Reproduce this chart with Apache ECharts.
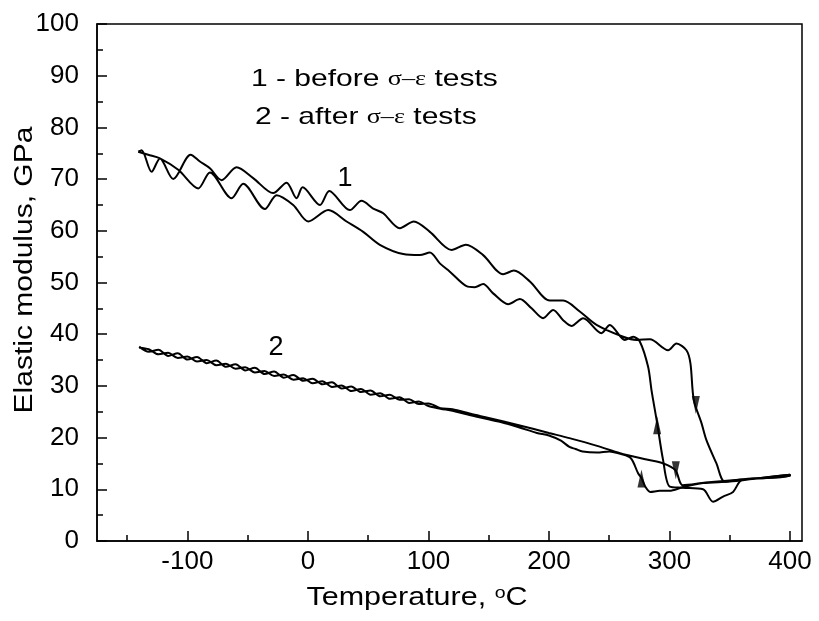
<!DOCTYPE html>
<html>
<head>
<meta charset="utf-8">
<script src="https://cdn.jsdelivr.net/npm/echarts@6/dist/echarts.min.js"></script>
<style>
  html, body { margin: 0; padding: 0; background: #fff; }
  #main { width: 819px; height: 621px; }
</style>
</head>
<body>
<div id="main"></div>
<script>
// tick values
const xTicks = [-100, 0, 100, 200, 300, 400];
const xMinorTicks = [-150, -50, 50, 150, 250, 350];

// curve 1 (before tests): heating branch, left to right
const c1Heat = [
  [-140.8, 75.3], [-138, 75.6], [-129.7, 71.4], [-122.8, 74.0], [-111.7, 70.0], [-97.3, 74.7],
  [-89.6, 73.4], [-81.3, 72.1], [-71.6, 69.8], [-59.2, 72.3], [-45.4, 70.2], [-28.8, 67.3],
  [-17.7, 69.3], [-9.4, 66.3], [-4.4, 68.4], [10, 65.0], [17.7, 67.7], [34.8, 64.0],
  [44.5, 65.8], [54.2, 64.3], [62.5, 63.4], [76.3, 60.5], [87.9, 61.8], [101.2, 59.8],
  [119.2, 56.3], [131.1, 57.3], [145.4, 55.3], [162, 51.6], [170.9, 52.3], [184.2, 50.2],
  [200.7, 46.5], [211.8, 46.5], [225.6, 44.4], [239.5, 41.8], [261.6, 39.5], [272.7, 38.9],
  [283.7, 39.0], [298.9, 36.9], [305.8, 38.2], [314.1, 36.9], [317.4, 34.4], [320.2, 27.3],
  [326.6, 22.8], [330.7, 19.5], [339, 15.0], [345.9, 11.5], [360, 11.9], [380, 12.3], [400, 12.8]
];
// curve 1: cooling branch, right to left
const c1Cool = [
  [400, 12.6], [380, 12.2], [360, 11.8], [352.8, 9.5], [344.5, 8.6], [336.2, 7.6],
  [327.9, 10.0], [311, 10.3], [300.3, 10.5], [294.7, 15.7], [289.8, 22.8], [285.1, 29.2],
  [282.3, 33.7], [275.4, 38.6], [269.9, 39.5], [263, 38.9], [250.5, 41.8], [243.6, 40.2],
  [228.4, 43.1], [218.7, 41.6], [211.8, 42.7], [203.5, 44.7], [195.2, 43.1], [185.6, 45.0],
  [175.9, 46.8], [166.2, 45.8], [153.7, 47.9], [145.4, 49.7], [138.5, 49.1], [131.6, 49.3],
  [117.8, 52.1], [109.5, 53.7], [101.2, 55.8], [92.9, 55.3], [79.1, 55.5], [59.7, 57.3],
  [45.9, 59.8], [32.1, 61.8], [16.9, 64.0], [0.3, 61.8], [-12.2, 65.0], [-26, 66.9],
  [-35.7, 64.2], [-53.7, 69.1], [-63.3, 66.3], [-81.3, 71.3], [-91, 68.2], [-107.6, 71.8],
  [-122.8, 74.0], [-132.5, 74.7], [-140.8, 75.3]
];

// curve 2 (after tests): heating branch, left to right
const c2Heat = [
  [-140, 37.6], [-132, 36.6], [-124, 37.0], [-116, 35.8], [-108, 36.3], [-100, 35.1],
  [-92, 35.6], [-84, 34.4], [-76, 34.9], [-68, 33.7], [-60, 34.2], [-52, 33.0],
  [-44, 33.5], [-36, 32.3], [-28, 32.8], [-20, 31.6], [-12, 32.1], [-4, 31.0],
  [4, 31.4], [12, 30.3], [20, 30.7], [28, 29.5], [36, 29.9], [44, 28.8],
  [52, 29.1], [60, 28.0], [68, 28.3], [76, 27.3], [84, 27.4], [92, 26.5],
  [100, 26.6], [110, 25.7], [120, 25.5], [135, 24.6], [150, 23.8], [175, 22.4],
  [200, 20.9], [217, 19.9], [240, 18.4], [259, 17.0], [280, 15.8], [295, 15.0],
  [305, 13.7], [311, 10.8], [330, 11.3], [360, 11.9], [400, 12.6]
];
// curve 2: cooling branch, right to left
const c2Cool = [
  [400, 12.8], [372, 12.1], [350, 11.5], [328, 11.2], [311, 10.4], [300, 9.7],
  [292, 9.7], [284, 9.5], [280, 10.5], [277, 12.1], [274, 13.1], [268, 16.0],
  [260, 16.8], [250, 17.3], [240, 17.1], [228, 17.3], [222, 17.8], [217, 18.2],
  [210, 19.4], [200, 20.4], [190, 20.9], [175, 22.0], [160, 23.0], [145, 23.8],
  [130, 24.6], [120, 25.2], [110, 25.6], [100, 26.1], [92, 27.0], [84, 26.7],
  [76, 27.8], [68, 27.5], [60, 28.6], [52, 28.3], [44, 29.4], [36, 29.0],
  [28, 30.1], [20, 29.8], [12, 30.9], [4, 30.5], [-4, 31.5], [-12, 31.2],
  [-20, 32.2], [-28, 31.9], [-36, 32.9], [-44, 32.6], [-52, 33.6], [-60, 33.3],
  [-68, 34.3], [-76, 34.0], [-84, 35.0], [-92, 34.7], [-100, 35.7], [-108, 35.4],
  [-116, 36.4], [-124, 36.1], [-132, 37.1], [-140, 37.4]
];

// arrow heads: [T, E, rotation]
const arrows = [
  [321.9, 26.3, 180],
  [289.8, 22.4, 0],
  [305.3, 13.7, 180],
  [276.8, 12.1, 0]
];

const FONT = 'Liberation Sans';
const chart = echarts.init(document.getElementById('main'), null, { renderer: 'canvas' });

const lineSeries = (name, data) => ({
  name: name,
  type: 'line',
  data: data,
  showSymbol: false,
  smooth: 0.3,
  lineStyle: { color: '#000', width: 2 },
  z: 3
});

const tickStyle = { color: '#000', width: 1.5 };

const option = {
  backgroundColor: '#fff',
  animation: false,
  grid: {
    left: 97, right: 17, top: 24, bottom: 80,
    show: true, borderColor: '#000', borderWidth: 1.5
  },
  xAxis: [
    {
      type: 'value', min: -175, max: 410, position: 'bottom',
      axisLine: { show: true, onZero: false, lineStyle: tickStyle },
      axisTick: { show: true, inside: true, length: 10, customValues: xTicks, lineStyle: tickStyle },
      axisLabel: { customValues: xTicks, fontFamily: FONT, fontSize: 26, color: '#000', margin: 8 },
      splitLine: { show: false }
    },
    {
      type: 'value', min: -175, max: 410, position: 'bottom', offset: 0,
      axisLine: { show: false, onZero: false },
      axisTick: { show: true, inside: true, length: 6, customValues: xMinorTicks, lineStyle: tickStyle },
      axisLabel: { show: false },
      splitLine: { show: false }
    }
  ],
  yAxis: {
    type: 'value', min: 0, max: 100, interval: 10, position: 'left',
    axisLine: { show: true, onZero: false, lineStyle: tickStyle },
    axisTick: { show: true, inside: true, length: 10, lineStyle: tickStyle },
    minorTick: { show: true, splitNumber: 2, length: 6, lineStyle: tickStyle },
    axisLabel: { fontFamily: FONT, fontSize: 26, color: '#000', margin: 18 },
    splitLine: { show: false },
    minorSplitLine: { show: false }
  },
  series: [
    lineSeries('1', c1Heat.concat(c1Cool)),
    lineSeries('2', c2Heat.concat(c2Cool)),
    {
      name: 'arrows',
      type: 'scatter',
      symbol: 'triangle',
      symbolSize: [8, 18],
      itemStyle: { color: '#000' },
      data: arrows.map(a => ({ value: [a[0], a[1]], symbolRotate: a[2] })),
      z: 4
    }
  ],
  graphic: [
    {
      type: 'text', x: 251, y: 79, scaleX: 1.25,
      style: {
        text: '1 - before {g|σ–ε} tests',
        fontFamily: FONT, fontSize: 24, fill: '#000', verticalAlign: 'middle',
        rich: { g: { fontFamily: 'Liberation Serif', fontSize: 21, fill: '#000' } }
      }
    },
    {
      type: 'text', x: 255, y: 117, scaleX: 1.25,
      style: {
        text: '2 - after {g|σ–ε} tests',
        fontFamily: FONT, fontSize: 24, fill: '#000', verticalAlign: 'middle',
        rich: { g: { fontFamily: 'Liberation Serif', fontSize: 21, fill: '#000' } }
      }
    },
    { type: 'text', x: 345, y: 179, style: { text: '1', fontFamily: FONT, fontSize: 27, fill: '#000', align: 'center', verticalAlign: 'middle' } },
    { type: 'text', x: 276, y: 348, style: { text: '2', fontFamily: FONT, fontSize: 27, fill: '#000', align: 'center', verticalAlign: 'middle' } },
    {
      type: 'text', x: 417, y: 598, scaleX: 1.22,
      style: {
        text: 'Temperature, {sup|o}C',
        fontFamily: FONT, fontSize: 25, fill: '#000', align: 'center', verticalAlign: 'middle',
        rich: { sup: { fontFamily: FONT, fontSize: 16, fill: '#000', verticalAlign: 'top', lineHeight: 14 } }
      }
    },
    {
      type: 'text', x: 25, y: 270, rotation: Math.PI / 2, scaleX: 1.2,
      style: {
        text: 'Elastic modulus, GPa',
        fontFamily: FONT, fontSize: 25, fill: '#000', align: 'center', verticalAlign: 'middle'
      }
    }
  ]
};

chart.setOption(option);
</script>
</body>
</html>
